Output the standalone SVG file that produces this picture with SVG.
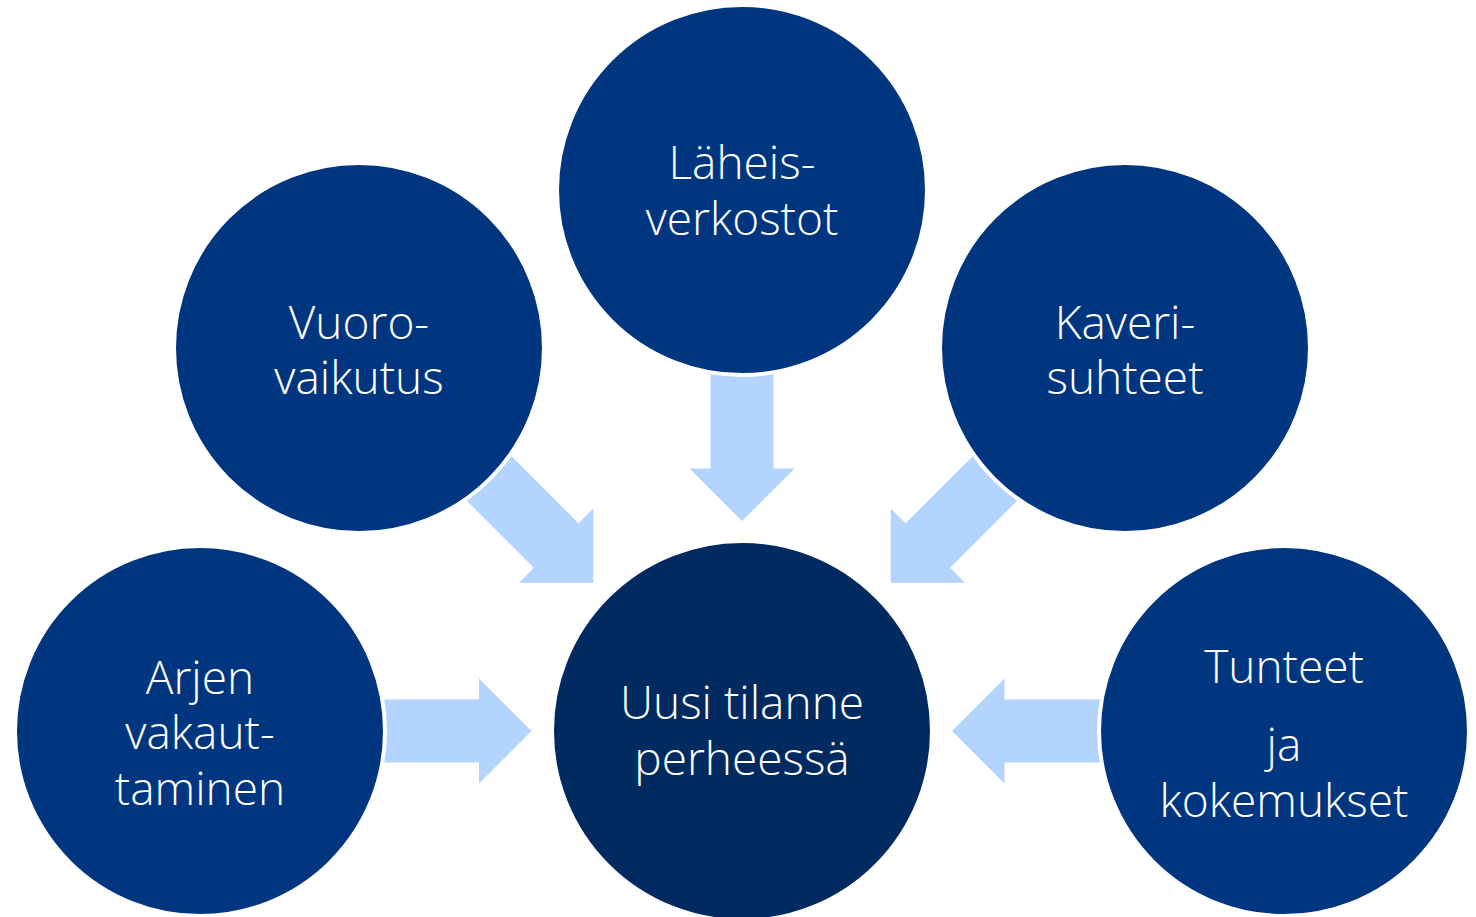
<svg xmlns="http://www.w3.org/2000/svg" width="1476" height="917" viewBox="0 0 1476 917">
<defs>
<style>
.node{fill:#00367F;stroke:#FFFFFF;stroke-width:4}
.core{fill:#002A60;stroke:#FFFFFF;stroke-width:4}
.arrow{fill:#B3D4FF}
.lbl{fill:#FFFFFF;font-family:"Open Sans","Liberation Sans",sans-serif;font-weight:300;font-size:46px;text-anchor:middle}
</style>
<path id="arr" d="M-160,-31.5 H-52.5 V-52.5 L0,0 L-52.5,52.5 V31.5 H-160 Z"/>
</defs>
<rect width="1476" height="917" fill="#FFFFFF"/>
<g id="connectors">
<use href="#arr" class="arrow" transform="translate(531.5,731)"/>
<use href="#arr" class="arrow" transform="translate(952,731) rotate(180)"/>
<use href="#arr" class="arrow" transform="translate(742,521) rotate(90)"/>
<use href="#arr" class="arrow" transform="translate(593.3,582.7) rotate(45)"/>
<use href="#arr" class="arrow" transform="translate(890.7,582.7) rotate(135)"/>
</g>
<g id="node-laheis">
<circle class="node" cx="742" cy="190" r="185"/>
<text class="lbl" x="742" y="179">Läheis-</text>
<text class="lbl" x="742" y="235">verkostot</text>
</g>
<g id="node-vuoro">
<circle class="node" cx="359" cy="348" r="185"/>
<text class="lbl" x="359" y="339">Vuoro-</text>
<text class="lbl" x="359" y="394">vaikutus</text>
</g>
<g id="node-kaveri">
<circle class="node" cx="1125" cy="348" r="185"/>
<text class="lbl" x="1125" y="339">Kaveri-</text>
<text class="lbl" x="1125" y="394">suhteet</text>
</g>
<g id="node-arjen">
<circle class="node" cx="200" cy="731" r="185"/>
<text class="lbl" x="200" y="694">Arjen</text>
<text class="lbl" x="200" y="749">vakaut-</text>
<text class="lbl" x="200" y="805">taminen</text>
</g>
<g id="node-tunteet">
<circle class="node" cx="1284" cy="731" r="185"/>
<text class="lbl" x="1284" y="683">Tunteet</text>
<text class="lbl" x="1284" y="761">ja</text>
<text class="lbl" x="1284" y="817">kokemukset</text>
</g>
<g id="node-uusi">
<circle class="core" cx="742" cy="731" r="190"/>
<text class="lbl" x="742" y="719">Uusi tilanne</text>
<text class="lbl" x="742" y="775">perheessä</text>
</g>
</svg>
